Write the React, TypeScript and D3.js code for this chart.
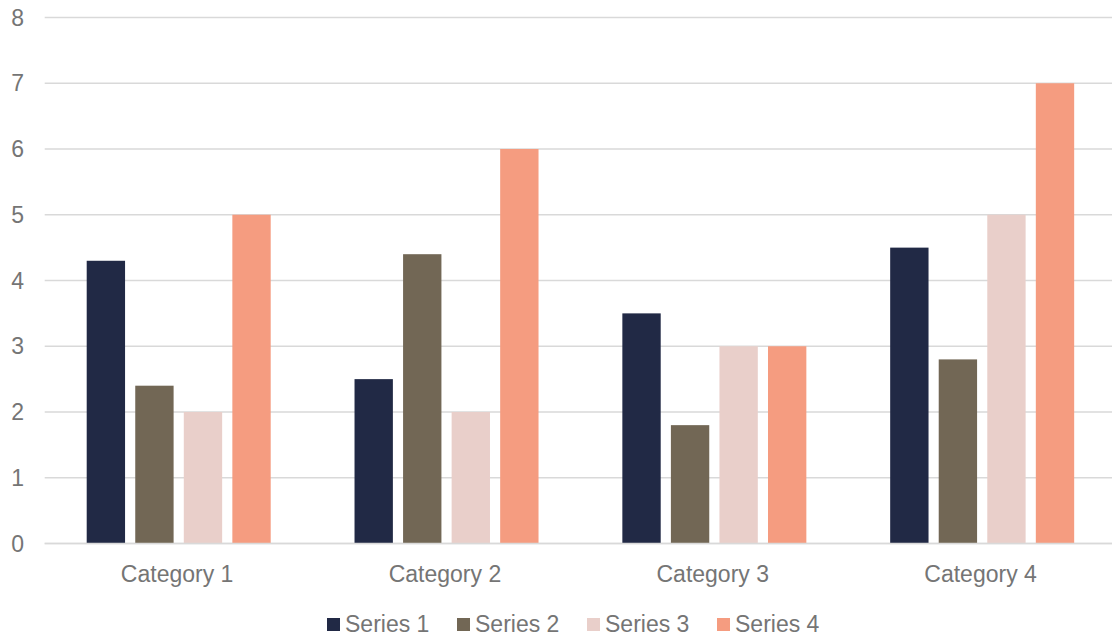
import React from "react";
import * as d3 from "d3";

const categories = ["Category 1", "Category 2", "Category 3", "Category 4"];
const seriesNames = ["Series 1", "Series 2", "Series 3", "Series 4"];
const series1 = [4.3, 2.5, 3.5, 4.5];
const series2 = [2.4, 4.4, 1.8, 2.8];
const series3 = [2, 2, 3, 5];
const series4 = [5, 6, 3, 7];
const yTicks = [0, 1, 2, 3, 4, 5, 6, 7, 8];
const colors = ["#212945", "#726755", "#E9CFCA", "#F59C80"];

const W = 1112;
const H = 638;

export default function App() {
  const allSeries = [series1, series2, series3, series4];
  const x0 = d3.scaleBand<string>().domain(categories).range([44.7, 1116]).padding(0);
  const x1 = d3.scaleBand<string>().domain(seriesNames).range([42, 226]).paddingInner(0.21).paddingOuter(0);
  const y = d3.scaleLinear().domain([0, 8]).range([543.5, 17.5]);
  const textColor = "#757575";
  const font = "'Liberation Sans', Arial, sans-serif";
  const legendX = 327;
  const legendStep = 130;

  return (
    <svg width={W} height={H} style={{ position: "absolute", left: 0, top: 0, background: "#fff" }}>
      {yTicks.map((t) => (
        <g key={t}>
          <line x1={44.7} x2={W} y1={y(t)} y2={y(t)} stroke="#d9d9d9" strokeWidth={1.4} />
          <text x={24} y={y(t)} dy="0.35em" textAnchor="end" fontFamily={font} fontSize={23} fill={textColor}>
            {t}
          </text>
        </g>
      ))}
      {categories.map((c, ci) => (
        <g key={c} transform={`translate(${x0(c)},0)`}>
          {allSeries.map((s, si) => (
            <rect
              key={si}
              x={x1(seriesNames[si])}
              y={y(s[ci])}
              width={x1.bandwidth()}
              height={y(0) - y(s[ci])}
              fill={colors[si]}
            />
          ))}
          <text x={x0.bandwidth() / 2 - 1.5} y={582} textAnchor="middle" fontFamily={font} fontSize={23} fill={textColor}>
            {c}
          </text>
        </g>
      ))}
      <line x1={44.7} x2={W} y1={y(0)} y2={y(0)} stroke="#d9d9d9" strokeWidth={1.6} />
      {seriesNames.map((n, i) => (
        <g key={n} transform={`translate(${legendX + i * legendStep},0)`}>
          <rect x={0} y={618} width={13} height={13} fill={colors[i]} />
          <text x={18} y={632} fontFamily={font} fontSize={23} fill={textColor}>
            {n}
          </text>
        </g>
      ))}
    </svg>
  );
}
